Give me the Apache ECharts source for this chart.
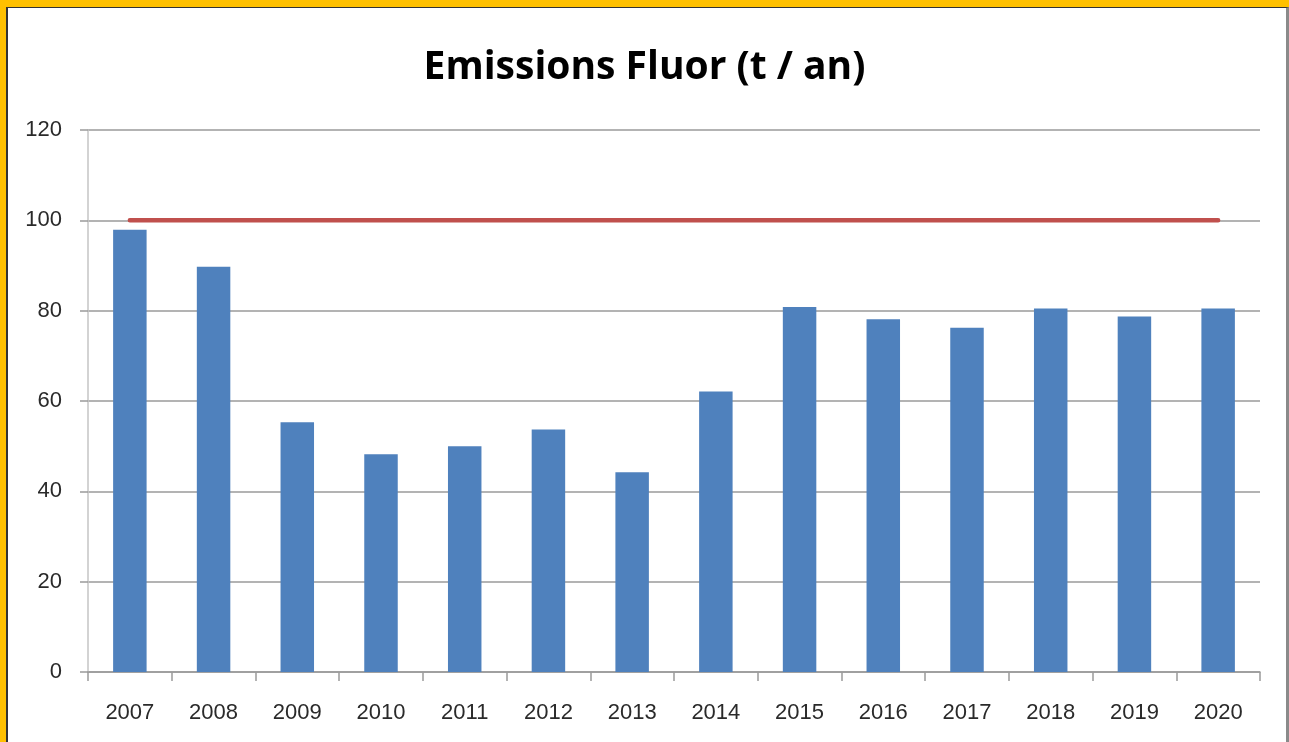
<!DOCTYPE html>
<html>
<head>
<meta charset="utf-8">
<script src="https://cdn.jsdelivr.net/npm/echarts@6/dist/echarts.min.js"></script>
<style>
html,body{margin:0;padding:0;width:1289px;height:742px;overflow:hidden;background:#FFC000;}
#frame{position:absolute;left:6px;top:7px;width:1278px;height:760px;background:#fff;border-left:2px solid #333;border-top:1.5px solid #333;border-right:3px solid #8a8a8a;}
#chart{position:absolute;left:0;top:0;width:1289px;height:742px;}
</style>
</head>
<body>
<div id="frame"></div>
<div id="chart"></div>
<script>
const categories = ['2007','2008','2009','2010','2011','2012','2013','2014','2015','2016','2017','2018','2019','2020'];
const emissions = [97.9, 89.7, 55.3, 48.2, 50.0, 53.7, 44.2, 62.1, 80.8, 78.1, 76.2, 80.5, 78.7, 80.5];
const limitValues = [100,100,100,100,100,100,100,100,100,100,100,100,100,100];
const titleText = 'Emissions Fluor (t / an)';

const chart = echarts.init(document.getElementById('chart'), null, {renderer:'canvas'});
chart.setOption({
  backgroundColor: 'transparent',
  animation: false,
  title: {
    text: titleText,
    left: 'center',
    top: 43,
    textStyle: {fontFamily: 'Open Sans', fontWeight: 'bold', fontSize: 39, color: '#000'}
  },
  grid: {left: 88, right: 29, top: 130, bottom: 70, containLabel: false},
  xAxis: {
    type: 'category',
    data: categories,
    boundaryGap: true,
    axisLine: {show: true, lineStyle: {color: '#9a9a9a', width: 1.5}},
    axisTick: {show: true, length: 9, alignWithLabel: false, lineStyle: {color: '#9a9a9a', width: 1.5}},
    axisLabel: {margin: 30, fontFamily: 'Liberation Sans', fontSize: 22, color: '#2a2a2a'}
  },
  yAxis: {
    type: 'value',
    min: 0, max: 120, interval: 20,
    axisLine: {show: true, lineStyle: {color: '#c4c4c4', width: 1.5}},
    axisTick: {show: true, length: 8, lineStyle: {color: '#9a9a9a', width: 1.5}},
    splitLine: {show: true, lineStyle: {color: '#9a9a9a', width: 1.5}},
    axisLabel: {margin: 26, fontFamily: 'Liberation Sans', fontSize: 22, color: '#2a2a2a'}
  },
  series: [
    {
      type: 'bar',
      data: emissions,
      barWidth: '40%',
      itemStyle: {color: '#4F81BD'}
    },
    {
      type: 'line',
      data: limitValues,
      symbol: 'none',
      lineStyle: {color: '#C0504D', width: 4.5, cap: 'round'},
      z: 5
    }
  ]
});
</script>
</body>
</html>
